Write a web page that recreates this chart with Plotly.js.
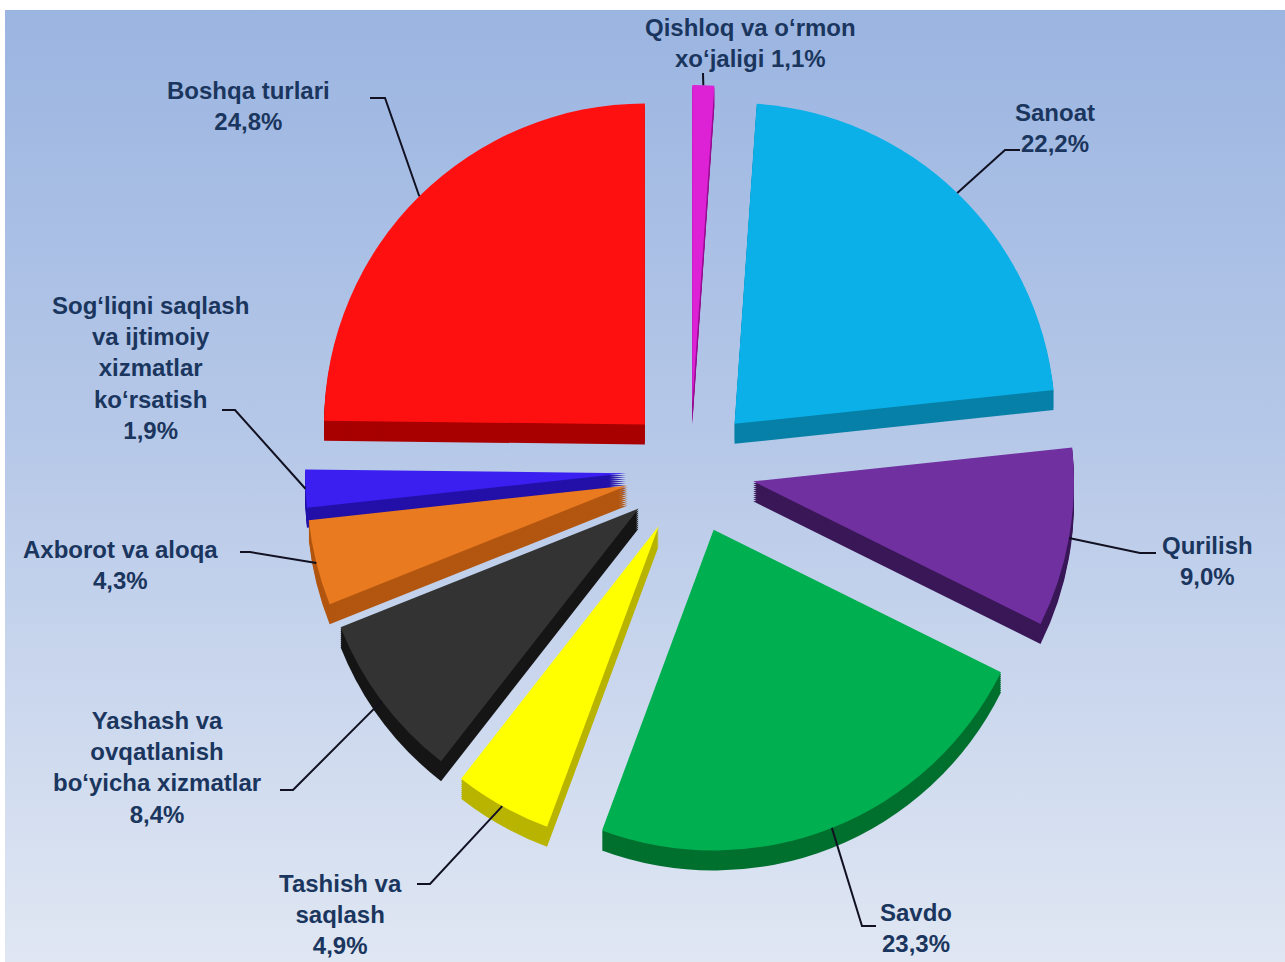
<!DOCTYPE html>
<html>
<head>
<meta charset="utf-8">
<script src="https://cdn.plot.ly/plotly-3.0.1.min.js"></script>
<style>
  html, body { margin: 0; padding: 0; background: #ffffff; }
  #bg {
    position: absolute; left: 5px; top: 10px; right: 0; bottom: 0;
    background: linear-gradient(to bottom, #9bb5e1 0%, #b6c8e8 45%, #e0e7f3 100%);
  }
  #chart { position: absolute; left: 0; top: 0; width: 1285px; height: 962px; }
</style>
</head>
<body>
<div id="bg"></div>
<div id="chart"></div>
<script>
// slices, clockwise from 12 o'clock
const categories = [
    "Qishloq va o‘rmon<br>xo‘jaligi",
    "Sanoat",
    "Qurilish",
    "Savdo",
    "Tashish va<br>saqlash",
    "Yashash va<br>ovqatlanish<br>bo‘yicha xizmatlar",
    "Axborot va aloqa",
    "Sog‘liqni saqlash<br>va ijtimoiy<br>xizmatlar<br>ko‘rsatish",
    "Boshqa turlari"
];
const values = [1.1, 22.2, 9.0, 23.3, 4.9, 8.4, 4.3, 1.9, 24.8];

// top face and side colours
const topColors = ["#dd22d6", "#0bb0e8", "#7030a0", "#00b050", "#ffff00", "#333333", "#e97a20", "#3a1ff0", "#ff1010"];
const sideColors = ["#961090", "#0780a8", "#3a1858", "#00702e", "#b8b400", "#161616", "#b25610", "#2210a8", "#a80000"];

// label layout (pixels): text centre, elbow of leader line, end of leader line
const labelX = [750, 1055, 1207, 916, 340, 157, 120, 150, 248];
const labelY = [43, 128, 561, 928, 914, 767, 565, 368, 106];
const elbowX = [703, 1005, 1140, 862, 430, 293, 250, 235, 385];
const elbowY = [73, 150, 553, 926, 884, 790, 552, 410, 98];
const endX = [703, 1020, 1156, 876, 417, 280, 240, 222, 370];
const endY = [73, 150, 553, 926, 884, 790, 552, 410, 98];

const W = 1285, H = 962;
const cx = 690, cy = 470, R = 385;   // centre and outer reach of the pulled pie
const pullFrac = 0.2;
const depth = 20, depthSteps = 10;

const px = x => x / W;
const py = y => 1 - y / H;

// one pie, shifted down by dy pixels
function pieTrace(colors, dy) {
    return {
        type: 'pie',
        values: values,
        labels: categories,
        sort: false,
        direction: 'clockwise',
        rotation: 0,
        pull: pullFrac,
        marker: { colors: colors, line: { width: 0 } },
        textinfo: 'none',
        hoverinfo: 'label+percent',
        showlegend: false,
        domain: {
            x: [px(cx - R), px(cx + R)],
            y: [py(cy + R + dy), py(cy - R + dy)]
        }
    };
}

// stacked darker copies give the thickness, then the top face
let data = [];
for (let k = depthSteps; k >= 1; k--) {
    data.push(pieTrace(sideColors, depth * k / depthSteps));
}
data.push(pieTrace(topColors, 0));

// leader lines start at the outer edge of each slice at its mid angle
const total = values.reduce((a, b) => a + b, 0);
let shapes = [];
let annotations = [];
let cum = 0;
values.forEach((v, i) => {
    const mid = (cum + v / 2) / total * 2 * Math.PI;
    cum += v;
    const sx = cx + R * Math.sin(mid);
    const sy = cy - R * Math.cos(mid);
    shapes.push({
        type: 'path', xref: 'paper', yref: 'paper',
        path: `M ${px(sx)},${py(sy)} L ${px(elbowX[i])},${py(elbowY[i])} L ${px(endX[i])},${py(endY[i])}`,
        line: { color: '#111122', width: 2 }
    });
    const pct = v.toFixed(1).replace('.', ',') + '%';
    // the first label keeps its value on the second line
    const txt = i === 0 ? categories[i] + ' ' + pct : categories[i] + '<br>' + pct;
    annotations.push({
        xref: 'paper', yref: 'paper',
        x: px(labelX[i]), y: py(labelY[i]),
        xanchor: 'center', yanchor: 'middle',
        text: txt, showarrow: false, align: 'center',
        font: { family: 'Liberation Sans, Arial, sans-serif', size: 24, color: '#1b365e', weight: 'bold' }
    });
});

const layout = {
    width: W, height: H,
    margin: { l: 0, r: 0, t: 0, b: 0 },
    paper_bgcolor: 'rgba(0,0,0,0)',
    plot_bgcolor: 'rgba(0,0,0,0)',
    showlegend: false,
    shapes: shapes,
    annotations: annotations
};

Plotly.newPlot('chart', data, layout, { displayModeBar: false, staticPlot: true });
</script>
</body>
</html>
